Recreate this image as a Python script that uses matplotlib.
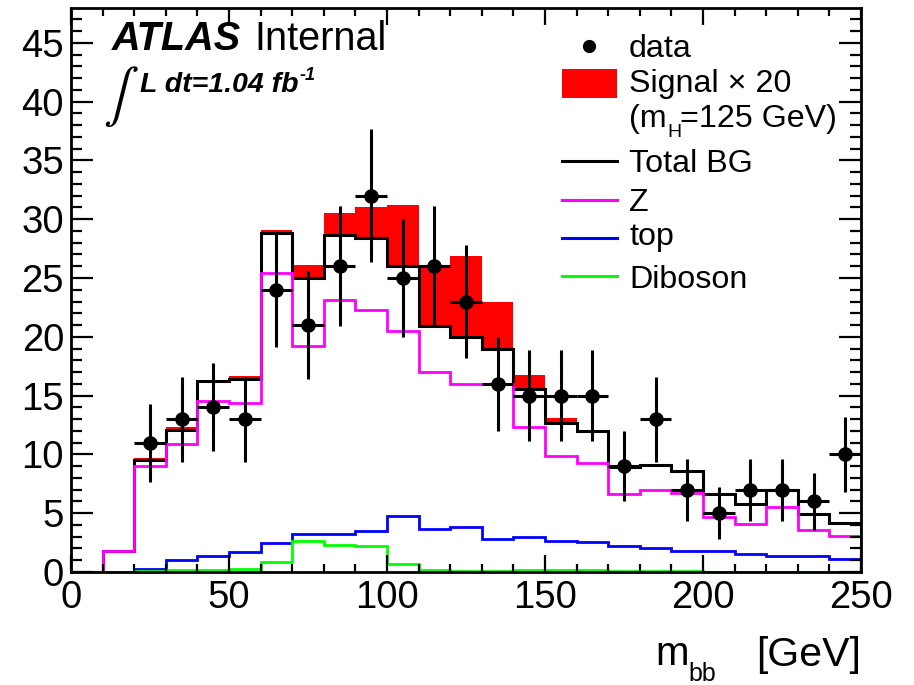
import numpy as np
import matplotlib
matplotlib.use("Agg")
import matplotlib.pyplot as plt
from matplotlib.lines import Line2D
from matplotlib.patches import Rectangle

plt.rcParams['font.family'] = ['Liberation Sans', 'DejaVu Sans']
plt.rcParams['mathtext.fontset'] = 'custom'
plt.rcParams['mathtext.rm'] = 'Liberation Sans'
plt.rcParams['mathtext.it'] = 'Liberation Sans:italic'
plt.rcParams['mathtext.bf'] = 'Liberation Sans:bold'

# ---------------- data (bins of 10 GeV from 0 to 250) ----------------
bin_edges = np.arange(0, 260, 10)
total_bg = [0.0, 1.8, 9.55, 12.1, 16.2, 16.45, 28.85, 25.0, 28.65, 28.4, 26.0, 20.9, 20.0,
            19.0, 15.55, 12.7, 11.95, 8.95, 9.1, 8.6, 6.6, 5.75, 6.95, 4.9, 4.15]
signal_x20 = [0.0, 0.02, 0.15, 0.2, 0.15, 0.25, 0.25, 1.1, 1.85, 2.6, 5.2, 5.1, 6.9,
              4.0, 1.2, 0.4, 0.15, 0.05, 0.03, 0.03, 0.02, 0.02, 0.02, 0.1, 0.02]
z_bg = [0.0, 1.75, 9.0, 10.9, 14.5, 14.4, 25.4, 19.2, 23.1, 22.3, 20.5, 17.0, 15.95,
        16.0, 12.35, 9.85, 9.3, 6.6, 6.95, 6.7, 4.7, 4.1, 5.55, 3.55, 3.05]
top_bg = [0.0, 0.0, 0.29, 1.06, 1.37, 1.66, 2.43, 3.2, 3.25, 3.49, 4.77, 3.69, 3.83,
          2.77, 3.0, 2.63, 2.52, 2.23, 2.06, 1.8, 1.8, 1.57, 1.37, 1.37, 1.09]
diboson_bg = [0.0, 0.0, 0.08, 0.15, 0.15, 0.25, 0.86, 2.66, 2.29, 2.2, 0.72, 0.14, 0.1,
              0.05, 0.2, 0.2, 0.15, 0.1, 0.1, 0.1, 0.02, 0.02, 0.02, 0.02, 0.02]
data_x = [25, 35, 45, 55, 65, 75, 85, 95, 105, 115, 125, 135, 145, 155, 165, 175,
          185, 195, 205, 215, 225, 235, 245]
data_y = [11, 13, 14, 13, 24, 21, 26, 32, 25, 26, 23, 16, 15, 15, 15, 9,
          13, 7, 5, 7, 7, 6, 10]

x_ticks = [0, 50, 100, 150, 200, 250]
y_ticks = [0, 5, 10, 15, 20, 25, 30, 35, 40, 45]

W, H = 914, 685
fig = plt.figure(figsize=(W / 100, H / 100), dpi=100)
ax_l, ax_r, ax_t, ax_b = 71, 861, 7.5, 572
ax = fig.add_axes([ax_l / W, 1 - ax_b / H, (ax_r - ax_l) / W, (ax_b - ax_t) / H])

tot = np.array(total_bg)
sig = np.array(signal_x20)
# signal stacked on top of total background
ax.stairs(tot + sig, bin_edges, baseline=tot, fill=True, color='#ff0000', lw=0)
ax.stairs(tot, bin_edges, color='black', lw=2.2)
ax.stairs(z_bg, bin_edges, color='#ff00ff', lw=2.0)
ax.stairs(top_bg, bin_edges, color='#0000ff', lw=2.0)
ax.stairs(diboson_bg, bin_edges, color='#00ff00', lw=2.0)

dy = np.sqrt(np.array(data_y, dtype=float))
ax.errorbar(data_x, data_y, yerr=dy, xerr=5, fmt='o', color='black', ms=9.5,
            elinewidth=2.2, capsize=0, zorder=5)

ax.set_xlim(0, 250)
ax.set_ylim(0, 48)
ax.set_xticks(x_ticks)
ax.set_yticks(y_ticks)
ax.set_xticks(np.arange(0, 251, 10), minor=True)
ax.set_yticks(np.arange(0, 48, 1), minor=True)
ax.tick_params(axis='both', which='both', direction='in', top=True, right=True,
               labelsize=27.5, width=1.6)
ax.tick_params(axis='x', which='major', length=12, pad=6)
ax.tick_params(axis='x', which='minor', length=6)
ax.tick_params(axis='y', which='major', length=16, pad=5)
ax.tick_params(axis='y', which='minor', length=8)
for s in ax.spines.values():
    s.set_linewidth(2)

def fx(px):
    return px / W

def fy(py):
    return 1 - py / H

# x axis title: m_bb   [GeV]
fig.text(fx(655), fy(665), 'm', ha='left', va='baseline', fontsize=29)
fig.text(fx(688), fy(681), 'bb', ha='left', va='baseline', fontsize=18)
fig.text(fx(861), fy(666), '[GeV]', ha='right', va='baseline', fontsize=29.5)

# ATLAS label
fig.text(fx(112), fy(50), 'ATLAS', fontsize=28.5, fontweight='bold', fontstyle='italic',
         va='baseline')
fig.text(fx(254), fy(50), 'Internal', fontsize=28.5, va='baseline')
fig.text(fx(103), fy(110), r'$\int$', fontsize=38, va='baseline', math_fontfamily='stixsans')
fig.text(fx(140), fy(92), r'L dt=1.04 fb', fontsize=20.5, fontweight='bold',
         fontstyle='italic', va='baseline')
fig.text(fx(300), fy(80), '-1', fontsize=13, fontweight='bold', fontstyle='italic',
         va='baseline')

# legend (drawn by hand in figure pixel coordinates)
lx0, lx1, tx = 562, 617, 629
fs_leg = 23.2
fig.add_artist(Line2D([fx(589)], [fy(46)], marker='o', color='black', ms=8.5, ls='none'))
fig.text(fx(tx), fy(57), 'data', fontsize=fs_leg, va='baseline')
fig.add_artist(Rectangle((fx(lx0), fy(98)), fx(lx1) - fx(lx0), fy(69) - fy(98),
                         transform=fig.transFigure, color='#ff0000', lw=0))
fig.text(fx(tx), fy(92), 'Signal \u00d7 20', fontsize=fs_leg, va='baseline')
fig.text(fx(tx), fy(127), '(m', fontsize=fs_leg, va='baseline')
fig.text(fx(667.5), fy(137), 'H', fontsize=14, va='baseline')
fig.text(fx(680), fy(127), '=125 GeV)', fontsize=fs_leg, va='baseline')
leg_lines = [('Total BG', 'black', 161, 172),
             ('Z', '#ff00ff', 199.5, 211),
             ('top', '#0000ff', 237.5, 245),
             ('Diboson', '#00ff00', 276, 288.5)]
for lab, col, ly, by in leg_lines:
    fig.add_artist(Line2D([fx(lx0), fx(lx1)], [fy(ly), fy(ly)], color=col, lw=2.2))
    fig.text(fx(tx), fy(by), lab, fontsize=fs_leg, va='baseline')

fig.savefig('out.png', dpi=100)
